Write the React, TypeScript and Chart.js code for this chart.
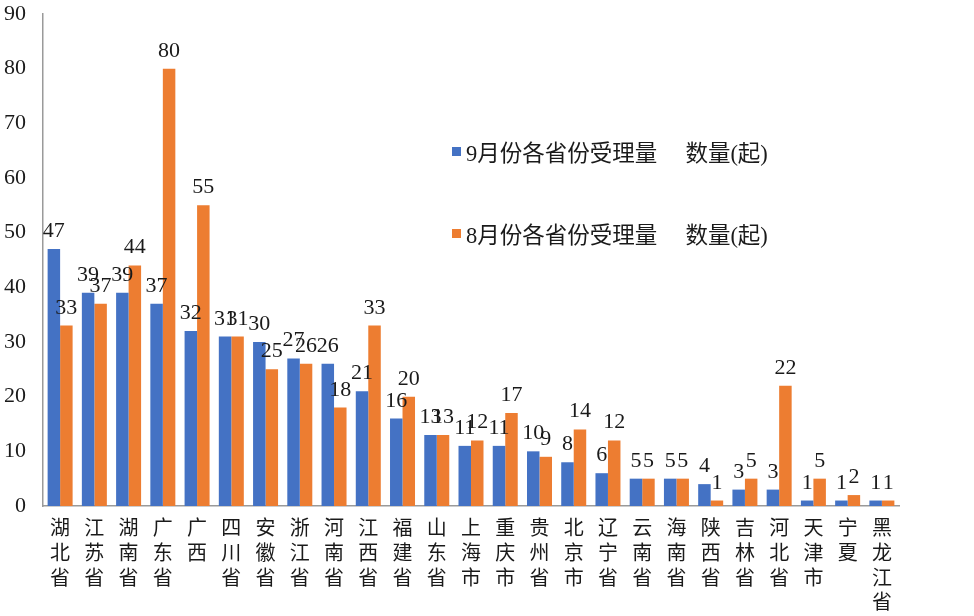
import React, { useEffect, useRef } from "react";
import { Chart, registerables } from "chart.js";

Chart.register(...registerables);

const categories = [
  "湖北省", "江苏省", "湖南省", "广东省", "广西", "四川省", "安徽省", "浙江省", "河南省",
  "江西省", "福建省", "山东省", "上海市", "重庆市", "贵州省", "北京市", "辽宁省", "云南省",
  "海南省", "陕西省", "吉林省", "河北省", "天津市", "宁夏", "黑龙江省",
];
const septValues = [47, 39, 39, 37, 32, 31, 30, 27, 26, 21, 16, 13, 11, 11, 10, 8, 6, 5, 5, 4, 3, 3, 1, 1, 1];
const augValues = [33, 37, 44, 80, 55, 31, 25, 26, 18, 33, 20, 13, 12, 17, 9, 14, 12, 5, 5, 1, 5, 22, 5, 2, 1];
const seriesNames = ["9月份各省份受理量　 数量(起)", "8月份各省份受理量　 数量(起)"];
const yTicks = [0, 10, 20, 30, 40, 50, 60, 70, 80, 90];

const FONT = '"Liberation Serif", "Noto Sans CJK SC", serif';

const valueLabels = {
  id: "valueLabels",
  afterDatasetsDraw(chart: any) {
    const ctx = chart.ctx;
    ctx.save();
    ctx.font = `22px ${FONT}`;
    ctx.fillStyle = "#1a1a1a";
    ctx.textAlign = "center";
    ctx.textBaseline = "alphabetic";
    chart.data.datasets.forEach((ds: any, i: number) => {
      const meta = chart.getDatasetMeta(i);
      meta.data.forEach((el: any, j: number) => {
        ctx.fillText(String(ds.data[j]), el.x, el.y - 12);
      });
    });
    ctx.restore();
  },
};

const inlineLegend = {
  id: "inlineLegend",
  afterDraw(chart: any) {
    const ctx = chart.ctx;
    ctx.save();
    ctx.font = `22.5px ${FONT}`;
    ctx.textBaseline = "middle";
    ctx.textAlign = "left";
    const rows = [155, 237];
    chart.data.datasets.forEach((ds: any, i: number) => {
      const y = rows[i];
      ctx.fillStyle = ds.backgroundColor;
      ctx.fillRect(452, y - 8, 9, 9);
      ctx.fillStyle = "#1a1a1a";
      ctx.fillText(ds.label, 466, y);
    });
    ctx.restore();
  },
};

export default function App() {
  const ref = useRef<HTMLCanvasElement>(null);
  useEffect(() => {
    if (!ref.current) return;
    const chart = new Chart(ref.current, {
      type: "bar",
      data: {
        labels: categories.map((c) => c.split("")),
        datasets: [
          {
            label: seriesNames[0],
            data: septValues,
            backgroundColor: "#4472C4",
            borderWidth: 0,
          },
          {
            label: seriesNames[1],
            data: augValues,
            backgroundColor: "#ED7D31",
            borderWidth: 0,
          },
        ],
      },
      options: {
        animation: false,
        responsive: true,
        maintainAspectRatio: false,
        layout: { padding: { top: 0, right: 75, left: 0, bottom: 0 } },
        datasets: { bar: { categoryPercentage: 0.73, barPercentage: 1 } },
        plugins: { legend: { display: false }, tooltip: { enabled: false } },
        scales: {
          x: {
            grid: { display: false, drawTicks: false },
            border: { display: true, color: "#9a9a9a", width: 1.5 },
            ticks: {
              maxRotation: 0,
              minRotation: 0,
              autoSkip: false,
              padding: 9,
              color: "#1a1a1a",
              font: { family: '"Noto Sans CJK SC", sans-serif', size: 20, lineHeight: 1.24 },
            },
            afterFit: (s: any) => {
              s.height = 110;
            },
          },
          y: {
            min: 0,
            max: 90,
            afterBuildTicks: (s: any) => {
              s.ticks = yTicks.map((v) => ({ value: v }));
            },
            grid: { display: false, drawTicks: false },
            border: { display: true, color: "#9a9a9a", width: 1.5 },
            ticks: {
              padding: 17,
              color: "#1a1a1a",
              font: { family: FONT, size: 22, lineHeight: 1.2 },
            },
            afterFit: (s: any) => {
              s.width = 43;
              s.paddingTop = 14;
              s.paddingBottom = 0;
            },
          },
        },
      },
      plugins: [valueLabels, inlineLegend],
    });
    return () => chart.destroy();
  }, []);
  return (
    <div style={{ position: "fixed", left: 0, top: 0, width: 974, height: 616, background: "#fff" }}>
      <canvas ref={ref} />
    </div>
  );
}
